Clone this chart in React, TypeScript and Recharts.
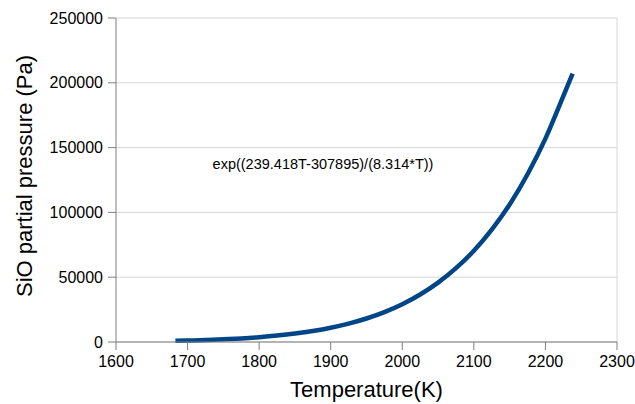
import { LineChart, Line, XAxis, YAxis, CartesianGrid, ReferenceLine } from 'recharts';

// values
const temperatures = [
  1683, 1700, 1725, 1750, 1775, 1800, 1825, 1850, 1875, 1900, 1925, 1950, 1975,
  2000, 2025, 2050, 2075, 2100, 2125, 2150, 2175, 2200, 2225, 2238,
];
const pressures = [
  890, 1110, 1520, 2070, 2790, 3730, 4940, 6500, 8480, 11000, 14170, 18130, 23060,
  29150, 36660, 45800, 56950, 70400, 86700, 106100, 129400, 156900, 189700, 207000,
];
const xTicks = [1600, 1700, 1800, 1900, 2000, 2100, 2200, 2300];
const yTicks = [0, 50000, 100000, 150000, 200000, 250000];

const data = temperatures.map((t, i) => ({ T: t, P: pressures[i] }));

const font = '"Liberation Sans", Arial, sans-serif';
const axisGray = '#7f7f7f';
const gridGray = '#d6d6d6';

function YLabel() {
  return (
    <text
      transform="translate(32, 176) rotate(-90)"
      textAnchor="middle"
      fontSize={22}
      fontFamily={font}
      fill="#000"
    >
      SiO partial pressure (Pa)
    </text>
  );
}

export default function App() {
  return (
    <div style={{ position: 'absolute', left: 0, top: 0, width: 635, height: 404, background: '#fff' }}>
      <LineChart
        width={635}
        height={404}
        data={data}
        margin={{ top: 18, right: 18, bottom: 0, left: 0 }}
      >
        <CartesianGrid vertical={false} stroke={gridGray} />
        <XAxis
          dataKey="T"
          type="number"
          domain={[1600, 2300]}
          ticks={xTicks}
          height={62}
          tickSize={8}
          tickMargin={6}
          stroke={axisGray}
          tick={{ fill: '#000', fontSize: 16, fontFamily: font }}
          label={{ value: 'Temperature(K)', position: 'insideBottom', offset: 7, fontSize: 22, fill: '#000', fontFamily: font }}
        />
        <YAxis
          type="number"
          domain={[0, 250000]}
          ticks={yTicks}
          width={116}
          tickSize={8}
          tickMargin={5}
          stroke={axisGray}
          tick={{ fill: '#000', fontSize: 16, fontFamily: font }}
          label={{ content: () => <YLabel /> }}
        />
        <ReferenceLine x={2300} stroke={gridGray} />
        <Line
          type="monotone"
          dataKey="P"
          stroke="#004586"
          strokeWidth={4.5}
          dot={false}
          isAnimationActive={false}
        />
      </LineChart>
      <div
        style={{
          position: 'absolute',
          left: 323,
          top: 156,
          transform: 'translateX(-50%)',
          fontFamily: font,
          fontSize: 14.5,
          whiteSpace: 'nowrap',
          color: '#000',
        }}
      >
        exp((239.418T-307895)/(8.314*T))
      </div>
    </div>
  );
}
